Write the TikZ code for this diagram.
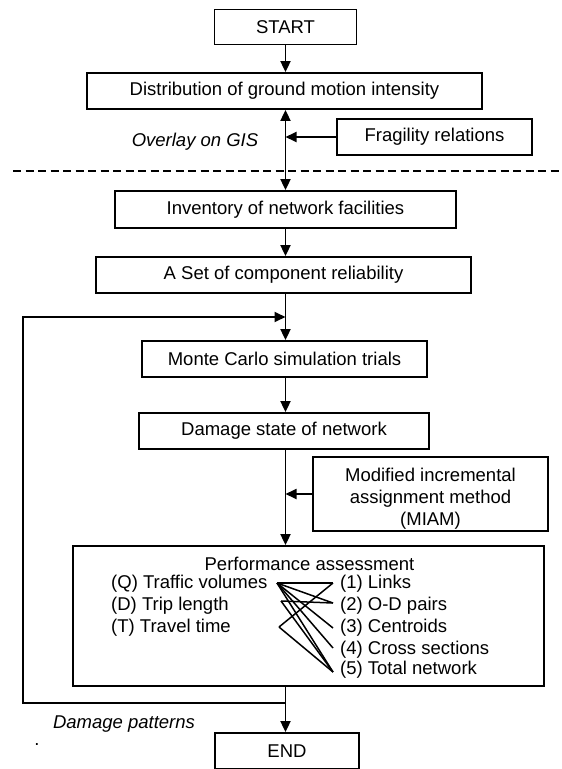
\documentclass[tikz,border=0pt]{standalone}
\usepackage{fontspec}
\setmainfont{Liberation Sans}
\usepackage{tikz}
\usetikzlibrary{arrows.meta, positioning}

\begin{document}
\begin{tikzpicture}[x=1pt, y=-1pt,
  font=\fontsize{18.5}{22}\selectfont,
  box/.style={draw, line width=1.8pt, inner sep=0pt, align=center},
  arr/.style={line width=1.8pt, -{Triangle[length=11pt,width=10pt]}},
  link/.style={line width=1.5pt}]
\useasboundingbox (0,0) rectangle (562,769);
% upper part
\node[box, minimum width=142, minimum height=35] (start) at (285.5,27) {START};
\node[box, minimum width=395, minimum height=36] (dist) at (284.5,91) {Distribution of ground motion intensity};
\node[box, minimum width=195, minimum height=36] (frag) at (434.5,137) {Fragility relations};
\node[font=\fontsize{18.5}{22}\selectfont\itshape] (gis) at (195,142) {Overlay on GIS};
\coordinate (dl) at (13,171);
\coordinate (dr) at (562,171);
\draw[line width=2.2pt, dash pattern=on 8pt off 4.5pt] (dl) -- (dr);
% network part
\node[box, minimum width=341, minimum height=37] (inv) at (285.5,209.5) {Inventory of network facilities};
\node[box, minimum width=375, minimum height=36] (rel) at (283.5,275) {A Set of component reliability};
\node[box, minimum width=285, minimum height=36] (mc) at (284.5,359) {Monte Carlo simulation trials};
\node[box, minimum width=290, minimum height=36] (dmg) at (284,431) {Damage state of network};
\node[box, minimum width=235, minimum height=74] (miam) at (430.5,494) {};
\node[align=center] (miamtxt) at ([yshift=-5pt]miam.center) {Modified incremental\\assignment method\\(MIAM)};
\node[box, minimum width=471, minimum height=140] (perf) at (308.5,616) {};
\node[box, minimum width=144, minimum height=36] (end) at (287,751) {END};
% performance assessment
\node (ptitle) at (309.5,564) {Performance assessment};
\node[anchor=west, inner sep=0pt] (q) at (111,584) {(Q) Traffic volumes};
\node[anchor=west, inner sep=0pt] (d) at (111,606) {(D) Trip length};
\node[anchor=west, inner sep=0pt] (t) at (111,628) {(T) Travel time};
\node[anchor=west, inner sep=0pt] (r1) at (340,584) {(1) Links};
\node[anchor=west, inner sep=0pt] (r2) at (340,606) {(2) O-D pairs};
\node[anchor=west, inner sep=0pt] (r3) at (340,628) {(3) Centroids};
\node[anchor=west, inner sep=0pt] (r4) at (340,650) {(4) Cross sections};
\node[anchor=west, inner sep=0pt] (r5) at (340,670) {(5) Total network};
\coordinate (qp) at (277,583);
\coordinate (dp) at (281,601);
\coordinate (tp) at (279,627);
\coordinate (p1) at (333,583);
\coordinate (p2) at (333,603);
\coordinate (p3) at (333,628);
\coordinate (p4) at (333,648);
\coordinate (p5) at (333,672);
\foreach \i in {1,...,5} \draw[link] (qp) -- (p\i);
\draw[link] (dp) -- (p2);
\draw[link] (dp) -- (p5);
\draw[link] (tp) -- (p1);
\draw[link] (tp) -- (p5);
\node[font=\fontsize{18.5}{22}\selectfont\itshape] (dpat) at (124,724) {Damage patterns};
\node (dot) at (37,745) {.};
% connectors
\draw[arr] (start.south) -- (start.south |- dist.north);
\draw[line width=1.8pt, {Triangle[length=11pt,width=10pt]}-{Triangle[length=11pt,width=10pt]}] (start.south |- dist.south) -- (start.south |- inv.north);
\draw[arr] (frag.west) -- (start.south |- frag.west);
\draw[arr] (start.south |- inv.south) -- (start.south |- rel.north);
\draw[arr] (start.south |- rel.south) -- (start.south |- mc.north);
\draw[arr] (start.south |- mc.south) -- (start.south |- dmg.north);
\draw[arr] (start.south |- dmg.south) -- (start.south |- perf.north);
\draw[arr] (miam.west) -- (start.south |- miam.west);
\draw[arr] (start.south |- perf.south) -- (start.south |- end.north);
% loop back
\coordinate (lb) at (23,703);
\coordinate (lt) at (23,317);
\draw[arr] (start.south |- lb) -- (lb) -- (lt) -- (start.south |- lt);
\end{tikzpicture}
\end{document}
